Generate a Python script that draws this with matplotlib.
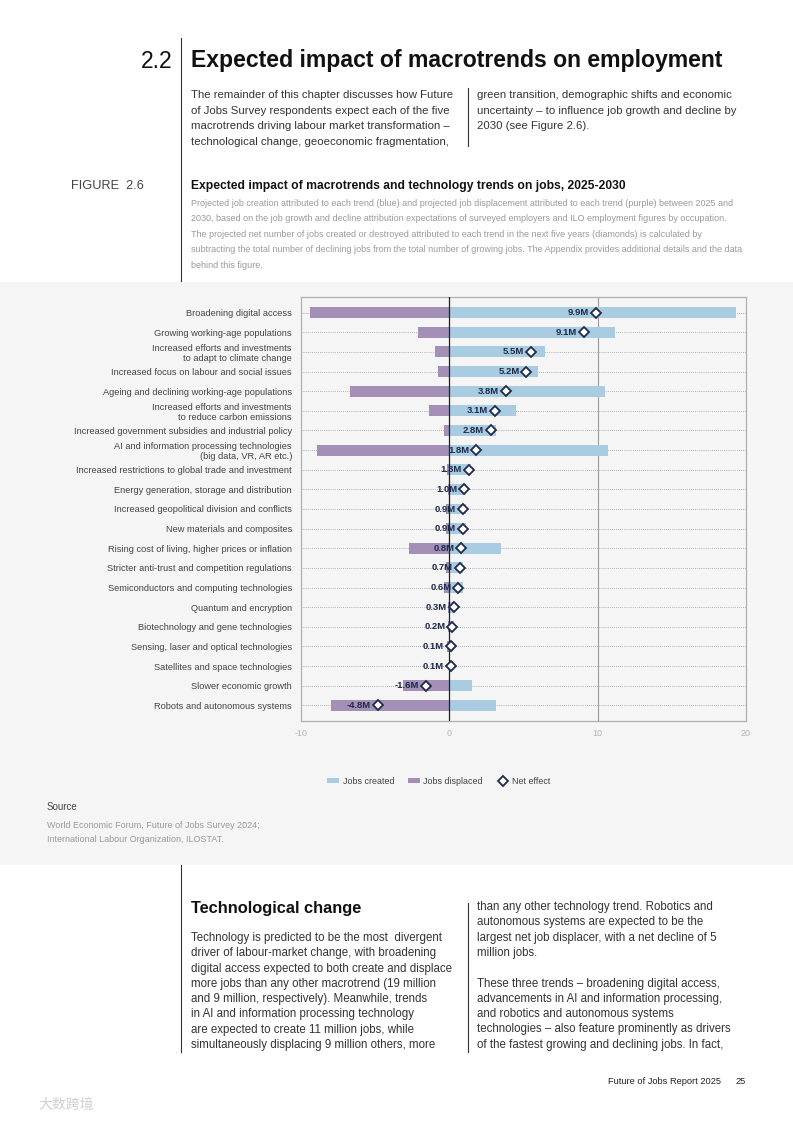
import matplotlib
matplotlib.use("Agg")
import matplotlib.pyplot as plt
from matplotlib.lines import Line2D
from matplotlib.patches import Rectangle, Patch

plt.rcParams['font.family'] = ['Liberation Sans', 'DejaVu Sans']

W, H = 793, 1121

categories = [
    "Broadening digital access",
    "Growing working-age populations",
    "Increased efforts and investments\nto adapt to climate change",
    "Increased focus on labour and social issues",
    "Ageing and declining working-age populations",
    "Increased efforts and investments\nto reduce carbon emissions",
    "Increased government subsidies and industrial policy",
    "AI and information processing technologies\n(big data, VR, AR etc.)",
    "Increased restrictions to global trade and investment",
    "Energy generation, storage and distribution",
    "Increased geopolitical division and conflicts",
    "New materials and composites",
    "Rising cost of living, higher prices or inflation",
    "Stricter anti-trust and competition regulations",
    "Semiconductors and computing technologies",
    "Quantum and encryption",
    "Biotechnology and gene technologies",
    "Sensing, laser and optical technologies",
    "Satellites and space technologies",
    "Slower economic growth",
    "Robots and autonomous systems",
]
jobs_created = [19.3, 11.2, 6.45, 5.95, 10.5, 4.5, 3.15, 10.7, 1.45, 1.1, 1.1, 1.1,
                3.5, 0.9, 0.95, 0.4, 0.3, 0.25, 0.15, 1.5, 3.15]
jobs_displaced = [-9.4, -2.1, -0.95, -0.75, -6.7, -1.4, -0.35, -8.9, -0.15, -0.1, -0.2, -0.2,
                  -2.7, -0.2, -0.35, -0.1, -0.1, -0.15, -0.05, -3.1, -7.95]
net_effect = [9.9, 9.1, 5.5, 5.2, 3.8, 3.1, 2.8, 1.8, 1.3, 1.0, 0.9, 0.9,
              0.8, 0.7, 0.6, 0.3, 0.2, 0.1, 0.1, -1.6, -4.8]
x_ticks = [-10, 0, 10, 20]

BLUE = '#a9cce3'
PURPLE = '#a48fb6'
NAVY = '#1e2a4a'
PANEL = '#f5f5f5'

fig = plt.figure(figsize=(W / 100, H / 100), dpi=100)
fig.patch.set_facecolor('white')


def fx(x):
    return x / W


def fy(y):
    return 1 - y / H


def txt(x, y, s, **kw):
    kw.setdefault('va', 'center')
    kw.setdefault('ha', 'left')
    fig.text(fx(x), fy(y), s, **kw)


def vline(x, y0, y1, color='#333333', lw=0.8):
    fig.add_artist(Line2D([fx(x), fx(x)], [fy(y0), fy(y1)], color=color, lw=lw,
                          transform=fig.transFigure))


# grey panel
fig.add_artist(Rectangle((0, fy(865)), 1, (865 - 282) / H, transform=fig.transFigure,
                         facecolor=PANEL, edgecolor='none', zorder=0))

# header
txt(172, 61, "2.2", fontsize=16.5, color='#111111', ha='right')
txt(191, 61, "Expected impact of macrotrends on employment", fontsize=16.6,
    fontweight='bold', color='#111111')
vline(181, 38, 281)

intro_left = ["The remainder of this chapter discusses how Future",
              "of Jobs Survey respondents expect each of the five",
              "macrotrends driving labour market transformation \u2013",
              "technological change, geoeconomic fragmentation,"]
intro_right = ["green transition, demographic shifts and economic",
               "uncertainty \u2013 to influence job growth and decline by",
               "2030 (see Figure 2.6)."]
for i, s in enumerate(intro_left):
    txt(191, 95 + i * 15.6, s, fontsize=8.2, color='#333333')
for i, s in enumerate(intro_right):
    txt(477, 95 + i * 15.6, s, fontsize=8.2, color='#333333')
vline(468, 88, 146)

txt(71, 186, "FIGURE  2.6", fontsize=9.2, color='#444444')
txt(191, 186, "Expected impact of macrotrends and technology trends on jobs, 2025-2030",
    fontsize=8.7, fontweight='bold', color='#111111')
sub = ["Projected job creation attributed to each trend (blue) and projected job displacement attributed to each trend (purple) between 2025 and",
       "2030, based on the job growth and decline attribution expectations of surveyed employers and ILO employment figures by occupation.",
       "The projected net number of jobs created or destroyed attributed to each trend in the next five years (diamonds) is calculated by",
       "subtracting the total number of declining jobs from the total number of growing jobs. The Appendix provides additional details and the data",
       "behind this figure."]
for i, s in enumerate(sub):
    txt(191, 203.5 + i * 15.4, s, fontsize=6.45, color='#9a9a9a')

# chart
ax = fig.add_axes([fx(301), fy(721), (746 - 301) / W, (721 - 297) / H])
ax.set_facecolor(PANEL)
n = len(categories)
ys = list(range(n))
for y in ys:
    ax.plot([-10, 20], [y, y], color='#9a9a9a', lw=0.6, ls=(0, (1, 1.5)), zorder=1)
ax.axvline(10, color='#9a9a9a', lw=0.8, zorder=1)
ax.barh(ys, jobs_created, height=0.56, color=BLUE, zorder=2)
ax.barh(ys, jobs_displaced, height=0.56, color=PURPLE, zorder=2)
ax.axvline(0, color='#222222', lw=0.9, zorder=3)
ax.plot(net_effect, ys, ls='none', marker='D', markersize=5.2, markerfacecolor='white',
        markeredgecolor=NAVY, markeredgewidth=1.3, zorder=5)
for v, y in zip(net_effect, ys):
    ax.annotate(f"{v:.1f}M", (v, y), xytext=(-5, 0), textcoords='offset points',
                ha='right', va='center', fontsize=6.8, fontweight='bold', color=NAVY, zorder=6)
ax.set_xlim(-10, 20)
ax.set_ylim(n - 1 + 0.8, -0.8)
ax.set_xticks(x_ticks)
ax.set_xticklabels([str(t) for t in x_ticks], fontsize=6.4, color='#b5b5b5')
ax.set_yticks(ys)
ax.set_yticklabels(categories, fontsize=6.65, color='#444444', linespacing=1.1)
ax.tick_params(axis='both', length=0, pad=6)
ax.tick_params(axis='y', pad=6.5)
for sp in ax.spines.values():
    sp.set_color('#b0b0b0')
    sp.set_linewidth(0.9)

# legend
handles = [Patch(facecolor=BLUE, edgecolor='none', label='Jobs created'),
           Patch(facecolor=PURPLE, edgecolor='none', label='Jobs displaced'),
           Line2D([], [], ls='none', marker='D', markersize=5.2, markerfacecolor='white',
                  markeredgecolor=NAVY, markeredgewidth=1.3, label='Net effect')]
leg = fig.legend(handles=handles, loc='center', bbox_to_anchor=(fx(439), fy(781)), ncol=3,
                 frameon=False, fontsize=6.4, handlelength=1.3, handleheight=0.5,
                 handletextpad=0.4, columnspacing=1.6)
for t in leg.get_texts():
    t.set_color('#444444')

txt(47, 807, "Source", fontsize=7, color='#444444')
txt(47, 825, "World Economic Forum, Future of Jobs Survey 2024;", fontsize=6.5, color='#9a9a9a')
txt(47, 839, "International Labour Organization, ILOSTAT.", fontsize=6.5, color='#9a9a9a')

# bottom section
vline(181, 865, 1052)
vline(468, 903, 1052)
txt(191, 908, "Technological change", fontsize=11.8, fontweight='bold', color='#111111')
left_body = ["Technology is predicted to be the most  divergent",
             "driver of labour-market change, with broadening",
             "digital access expected to both create and displace",
             "more jobs than any other macrotrend (19 million",
             "and 9 million, respectively). Meanwhile, trends",
             "in AI and information processing technology",
             "are expected to create 11 million jobs, while",
             "simultaneously displacing 9 million others, more"]
for i, s in enumerate(left_body):
    txt(191, 938 + i * 15.3, s, fontsize=8.3, color='#333333')
right_body = ["than any other technology trend. Robotics and",
              "autonomous systems are expected to be the",
              "largest net job displacer, with a net decline of 5",
              "million jobs.",
              "",
              "These three trends \u2013 broadening digital access,",
              "advancements in AI and information processing,",
              "and robotics and autonomous systems",
              "technologies \u2013 also feature prominently as drivers",
              "of the fastest growing and declining jobs. In fact,"]
for i, s in enumerate(right_body):
    if s:
        txt(477, 907 + i * 15.3, s, fontsize=8.3, color='#333333')

txt(721, 1082, "Future of Jobs Report 2025", fontsize=6.7, color='#222222', ha='right')
txt(746, 1082, "25", fontsize=6.7, color='#222222', ha='right')
txt(38, 1105, "\u5927\u6570\u8de8\u5883", fontsize=10, color='#d0d0d0',
    family=['Noto Sans CJK SC', 'DejaVu Sans'])

fig.savefig("out.png", dpi=100, facecolor='white')
